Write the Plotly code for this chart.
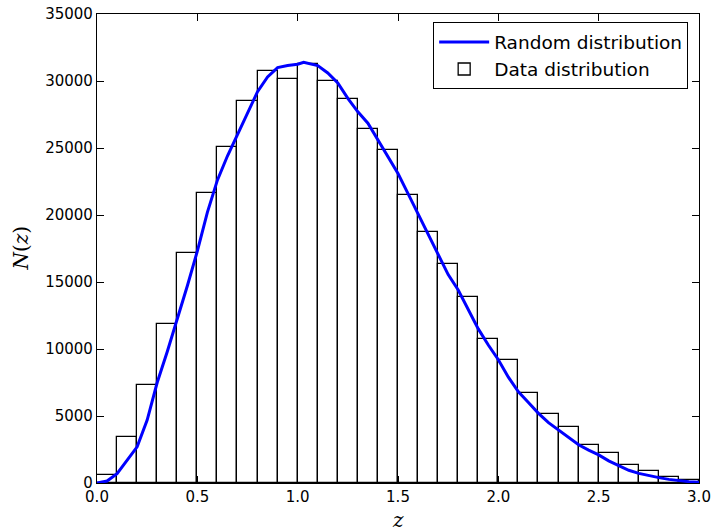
import plotly.graph_objects as go

# histogram bins (width 0.1 from 0 to 3.0)
bin_left = [round(0.1 * i, 1) for i in range(30)]
bin_counts = [600, 3400, 7350, 11850, 17200, 21650, 25050, 28500, 30750, 30150,
              31300, 30000, 28650, 26400, 24830, 21520, 18750, 16340, 13880, 10720,
              9150, 6680, 5180, 4200, 2800, 2260, 1340, 900, 450, 230]

# random-distribution curve
curve_z = [0.0, 0.05, 0.1, 0.15, 0.2, 0.25, 0.3, 0.35, 0.4, 0.45, 0.5, 0.55, 0.6,
           0.65, 0.7, 0.75, 0.8, 0.85, 0.9, 0.95, 1.0, 1.03, 1.1, 1.15, 1.2, 1.25,
           1.3, 1.35, 1.4, 1.45, 1.5, 1.55, 1.6, 1.65, 1.7, 1.75, 1.8, 1.85, 1.9,
           1.95, 2.0, 2.05, 2.1, 2.15, 2.2, 2.25, 2.3, 2.35, 2.4, 2.45, 2.5, 2.55,
           2.6, 2.65, 2.7, 2.75, 2.8, 2.85, 2.9, 2.95, 3.0]
curve_n = [0, 150, 700, 1700, 2700, 4700, 7500, 9800, 12200, 14700, 17300, 20200, 22600,
           24400, 26000, 27600, 29200, 30300, 31000, 31150, 31250, 31400, 31150, 30600,
           29850, 28700, 27700, 26850, 25600, 24450, 23100, 21600, 20100, 18600, 17150,
           15550, 14400, 12900, 11500, 10300, 9200, 7900, 6800, 6000, 5200, 4500, 3950,
           3350, 2850, 2450, 2100, 1650, 1270, 950, 720, 550, 400, 270, 170, 100, 50]

x_ticks = [0.0, 0.5, 1.0, 1.5, 2.0, 2.5, 3.0]
y_ticks = [0, 5000, 10000, 15000, 20000, 25000, 30000, 35000]

fig = go.Figure()

fig.add_trace(go.Bar(
    x=[b + 0.05 for b in bin_left],
    y=bin_counts,
    width=0.1,
    name='Data distribution',
    marker=dict(color='white', line=dict(color='black', width=1.3)),
    legendrank=2,
))

fig.add_trace(go.Scatter(
    x=curve_z, y=curve_n,
    mode='lines',
    name='Random distribution',
    line=dict(color='#0000ff', width=3),
    legendrank=1,
))

axis_style = dict(
    showline=True, linecolor='black', linewidth=1.3, mirror='ticks',
    ticks='inside', ticklen=7, tickcolor='black', tickwidth=1,
    showgrid=False, zeroline=False, automargin=False,
    ticklabeloverflow='allow',
    tickfont=dict(family='DejaVu Sans', size=15, color='black'),
)

fig.update_xaxes(
    range=[0, 3.0], tickvals=x_ticks, ticktext=[f'{v:.1f}' for v in x_ticks],
    ticklabelstandoff=0,
    **axis_style
)
fig.update_yaxes(
    range=[0, 35000], tickvals=y_ticks, ticktext=[str(v) for v in y_ticks],
    **axis_style
)

# axis titles placed as annotations for exact positioning
title_font = dict(family='DejaVu Serif', size=20, color='black')
fig.add_annotation(text='<i>z</i>', xref='paper', yref='paper', x=0.5, y=0,
                   xanchor='center', yanchor='middle', yshift=-37,
                   showarrow=False, font=title_font)
fig.add_annotation(text='<i>N</i>(<i>z</i>)', xref='paper', yref='paper', x=0, y=0.5,
                   xanchor='center', yanchor='middle', xshift=-77, textangle=-90,
                   showarrow=False, font=title_font)

fig.update_layout(
    width=713, height=532,
    margin=dict(l=97, r=14, t=14, b=49),
    plot_bgcolor='white', paper_bgcolor='white',
    bargap=0,
    legend=dict(
        x=0.982, y=0.982, xanchor='right', yanchor='top',
        bgcolor='white', bordercolor='black', borderwidth=1,
        font=dict(family='DejaVu Sans', size=18.5, color='black'),
        itemwidth=50,
    ),
)

# drop the page's default body margin so the figure sits at the window corner
fig.write_html("out.html", config={'displayModeBar': False},
               post_script="document.body.style.margin = '0';")
